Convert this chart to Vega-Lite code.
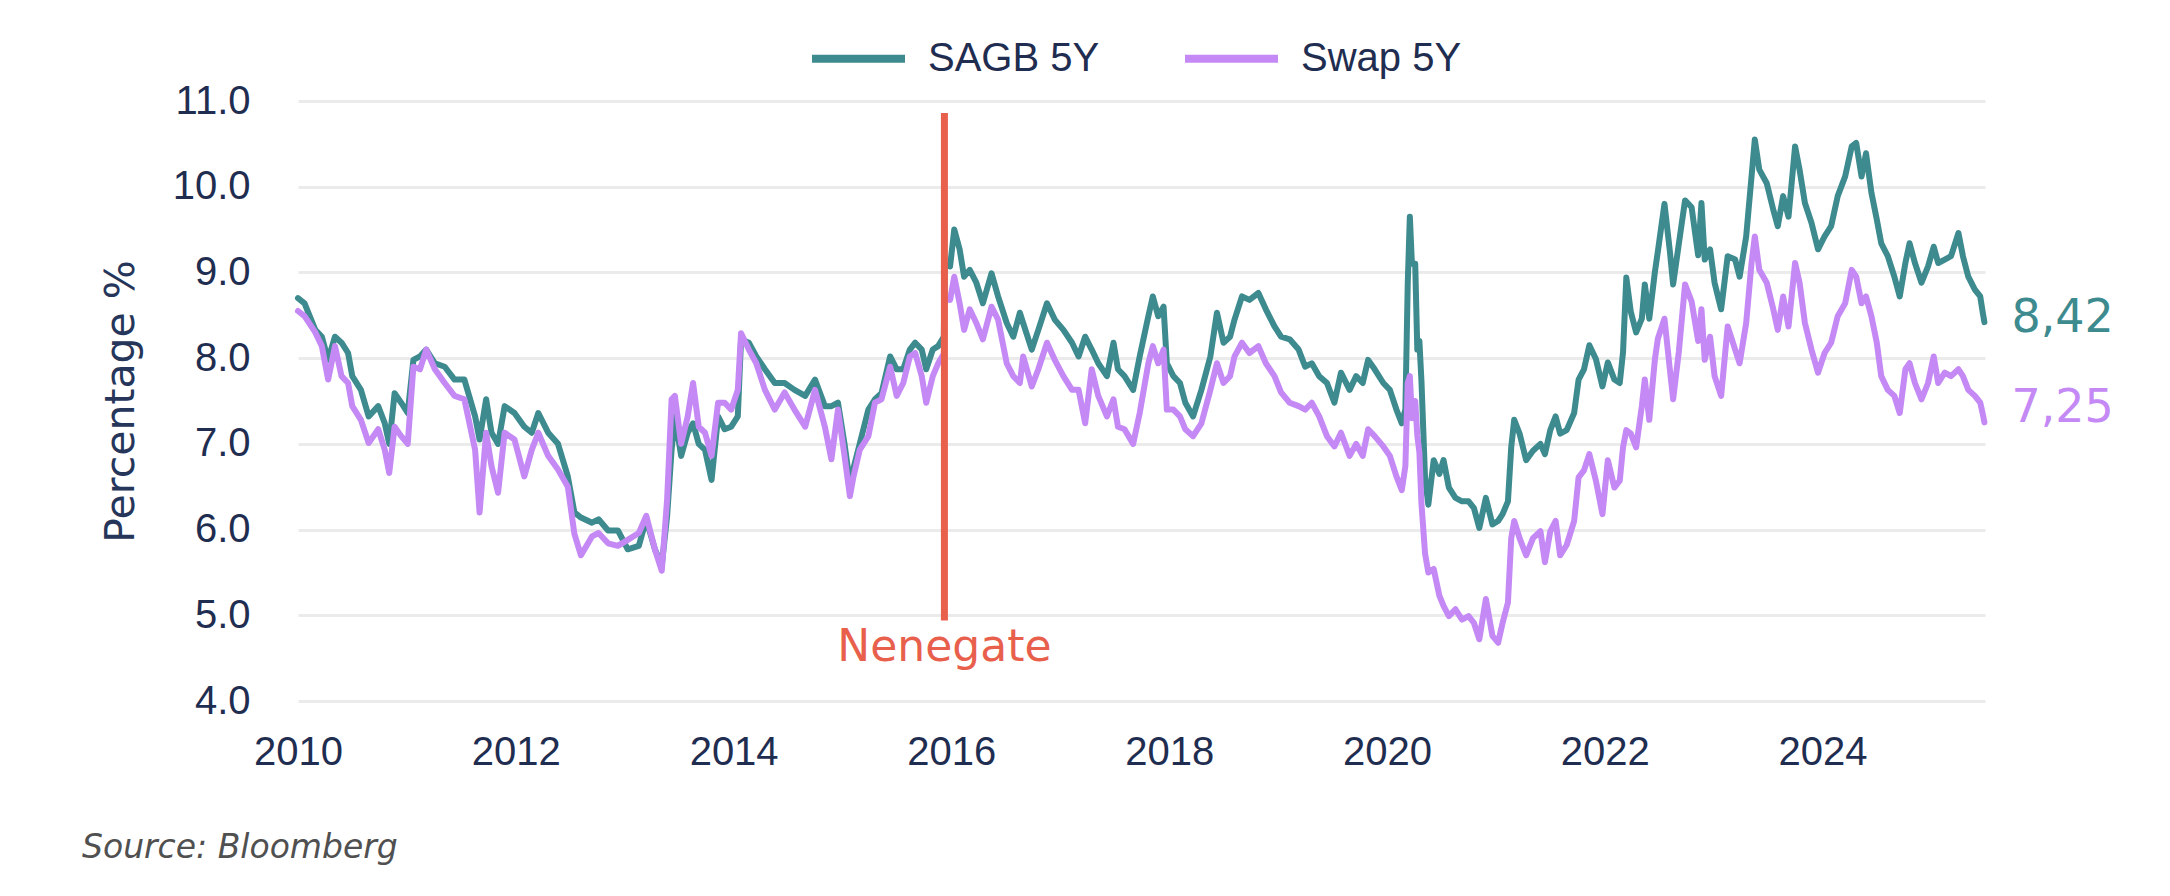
{
  "$schema": "https://vega.github.io/schema/vega-lite/v6.json",
  "width": 1687,
  "height": 600,
  "autosize": {"type": "none"},
  "padding": {"left": 298, "top": 101, "right": 185, "bottom": 195},
  "background": "white",
  "title": {
    "text": "Source: Bloomberg",
    "orient": "bottom",
    "anchor": "start",
    "frame": "group",
    "dx": -216,
    "offset": 60,
    "font": "DejaVu Sans",
    "fontStyle": "italic",
    "fontWeight": "normal",
    "fontSize": 33,
    "color": "#505050"
  },
  "datasets": {
    "rates": [
      {"d": "2010-01-01", "SAGB 5Y": 8.70, "Swap 5Y": 8.55},
      {"d": "2010-01-23", "SAGB 5Y": 8.64, "Swap 5Y": 8.49},
      {"d": "2010-02-28", "SAGB 5Y": 8.33, "Swap 5Y": 8.30},
      {"d": "2010-03-22", "SAGB 5Y": 8.25, "Swap 5Y": 8.14},
      {"d": "2010-04-12", "SAGB 5Y": 7.98, "Swap 5Y": 7.75},
      {"d": "2010-05-05", "SAGB 5Y": 8.25, "Swap 5Y": 8.14},
      {"d": "2010-05-27", "SAGB 5Y": 8.18, "Swap 5Y": 7.79},
      {"d": "2010-06-18", "SAGB 5Y": 8.06, "Swap 5Y": 7.71},
      {"d": "2010-07-02", "SAGB 5Y": 7.79, "Swap 5Y": 7.44},
      {"d": "2010-07-31", "SAGB 5Y": 7.63, "Swap 5Y": 7.28},
      {"d": "2010-08-26", "SAGB 5Y": 7.32, "Swap 5Y": 7.01},
      {"d": "2010-09-27", "SAGB 5Y": 7.44, "Swap 5Y": 7.17},
      {"d": "2010-10-19", "SAGB 5Y": 7.24, "Swap 5Y": 6.93},
      {"d": "2010-11-03", "SAGB 5Y": 7.00, "Swap 5Y": 6.66},
      {"d": "2010-11-21", "SAGB 5Y": 7.59, "Swap 5Y": 7.20},
      {"d": "2010-12-13", "SAGB 5Y": 7.48, "Swap 5Y": 7.09},
      {"d": "2011-01-04", "SAGB 5Y": 7.36, "Swap 5Y": 7.00},
      {"d": "2011-01-23", "SAGB 5Y": 7.98, "Swap 5Y": 7.90},
      {"d": "2011-02-14", "SAGB 5Y": 8.02, "Swap 5Y": 7.87},
      {"d": "2011-03-07", "SAGB 5Y": 8.10, "Swap 5Y": 8.10},
      {"d": "2011-04-05", "SAGB 5Y": 7.94, "Swap 5Y": 7.87},
      {"d": "2011-05-08", "SAGB 5Y": 7.90, "Swap 5Y": 7.71},
      {"d": "2011-06-10", "SAGB 5Y": 7.75, "Swap 5Y": 7.56},
      {"d": "2011-07-13", "SAGB 5Y": 7.75, "Swap 5Y": 7.52},
      {"d": "2011-08-18", "SAGB 5Y": 7.32, "Swap 5Y": 6.93},
      {"d": "2011-09-02", "SAGB 5Y": 7.05, "Swap 5Y": 6.20},
      {"d": "2011-09-24", "SAGB 5Y": 7.52, "Swap 5Y": 7.13},
      {"d": "2011-10-12", "SAGB 5Y": 7.13, "Swap 5Y": 6.74},
      {"d": "2011-11-03", "SAGB 5Y": 7.00, "Swap 5Y": 6.43},
      {"d": "2011-11-25", "SAGB 5Y": 7.44, "Swap 5Y": 7.13},
      {"d": "2011-12-28", "SAGB 5Y": 7.36, "Swap 5Y": 7.05},
      {"d": "2012-01-30", "SAGB 5Y": 7.20, "Swap 5Y": 6.62},
      {"d": "2012-02-24", "SAGB 5Y": 7.13, "Swap 5Y": 6.93},
      {"d": "2012-03-17", "SAGB 5Y": 7.36, "Swap 5Y": 7.13},
      {"d": "2012-04-19", "SAGB 5Y": 7.13, "Swap 5Y": 6.86},
      {"d": "2012-05-22", "SAGB 5Y": 7.00, "Swap 5Y": 6.70},
      {"d": "2012-06-24", "SAGB 5Y": 6.62, "Swap 5Y": 6.50},
      {"d": "2012-07-16", "SAGB 5Y": 6.20, "Swap 5Y": 5.95},
      {"d": "2012-08-07", "SAGB 5Y": 6.14, "Swap 5Y": 5.70},
      {"d": "2012-09-13", "SAGB 5Y": 6.08, "Swap 5Y": 5.92},
      {"d": "2012-10-05", "SAGB 5Y": 6.12, "Swap 5Y": 5.96},
      {"d": "2012-11-06", "SAGB 5Y": 5.99, "Swap 5Y": 5.84},
      {"d": "2012-12-09", "SAGB 5Y": 5.99, "Swap 5Y": 5.81},
      {"d": "2013-01-11", "SAGB 5Y": 5.77, "Swap 5Y": 5.88},
      {"d": "2013-02-17", "SAGB 5Y": 5.81, "Swap 5Y": 5.96},
      {"d": "2013-03-14", "SAGB 5Y": 6.12, "Swap 5Y": 6.16},
      {"d": "2013-04-12", "SAGB 5Y": 5.77, "Swap 5Y": 5.77},
      {"d": "2013-05-05", "SAGB 5Y": 5.58, "Swap 5Y": 5.52},
      {"d": "2013-05-23", "SAGB 5Y": 6.16, "Swap 5Y": 6.35},
      {"d": "2013-06-07", "SAGB 5Y": 6.93, "Swap 5Y": 7.52},
      {"d": "2013-06-18", "SAGB 5Y": 7.32, "Swap 5Y": 7.56},
      {"d": "2013-07-09", "SAGB 5Y": 6.86, "Swap 5Y": 7.00},
      {"d": "2013-07-31", "SAGB 5Y": 7.13, "Swap 5Y": 7.32},
      {"d": "2013-08-18", "SAGB 5Y": 7.24, "Swap 5Y": 7.71},
      {"d": "2013-09-06", "SAGB 5Y": 7.00, "Swap 5Y": 7.20},
      {"d": "2013-09-27", "SAGB 5Y": 6.93, "Swap 5Y": 7.13},
      {"d": "2013-10-19", "SAGB 5Y": 6.58, "Swap 5Y": 6.86},
      {"d": "2013-11-10", "SAGB 5Y": 7.32, "Swap 5Y": 7.48},
      {"d": "2013-12-02", "SAGB 5Y": 7.17, "Swap 5Y": 7.48},
      {"d": "2013-12-24", "SAGB 5Y": 7.20, "Swap 5Y": 7.40},
      {"d": "2014-01-15", "SAGB 5Y": 7.32, "Swap 5Y": 7.63},
      {"d": "2014-01-26", "SAGB 5Y": 8.22, "Swap 5Y": 8.29},
      {"d": "2014-02-21", "SAGB 5Y": 8.18, "Swap 5Y": 8.10},
      {"d": "2014-03-18", "SAGB 5Y": 8.02, "Swap 5Y": 7.94},
      {"d": "2014-04-16", "SAGB 5Y": 7.87, "Swap 5Y": 7.63},
      {"d": "2014-05-19", "SAGB 5Y": 7.71, "Swap 5Y": 7.40},
      {"d": "2014-06-21", "SAGB 5Y": 7.71, "Swap 5Y": 7.60},
      {"d": "2014-07-24", "SAGB 5Y": 7.63, "Swap 5Y": 7.40},
      {"d": "2014-08-29", "SAGB 5Y": 7.56, "Swap 5Y": 7.20},
      {"d": "2014-10-01", "SAGB 5Y": 7.75, "Swap 5Y": 7.63},
      {"d": "2014-11-03", "SAGB 5Y": 7.44, "Swap 5Y": 7.20},
      {"d": "2014-11-25", "SAGB 5Y": 7.44, "Swap 5Y": 6.82},
      {"d": "2014-12-17", "SAGB 5Y": 7.48, "Swap 5Y": 7.40},
      {"d": "2015-01-08", "SAGB 5Y": 7.00, "Swap 5Y": 6.86},
      {"d": "2015-01-26", "SAGB 5Y": 6.54, "Swap 5Y": 6.39},
      {"d": "2015-02-06", "SAGB 5Y": 6.70, "Swap 5Y": 6.60},
      {"d": "2015-02-28", "SAGB 5Y": 7.00, "Swap 5Y": 6.93},
      {"d": "2015-03-29", "SAGB 5Y": 7.40, "Swap 5Y": 7.09},
      {"d": "2015-04-20", "SAGB 5Y": 7.52, "Swap 5Y": 7.48},
      {"d": "2015-05-12", "SAGB 5Y": 7.59, "Swap 5Y": 7.52},
      {"d": "2015-06-10", "SAGB 5Y": 8.02, "Swap 5Y": 7.90},
      {"d": "2015-07-02", "SAGB 5Y": 7.87, "Swap 5Y": 7.56},
      {"d": "2015-07-24", "SAGB 5Y": 7.87, "Swap 5Y": 7.71},
      {"d": "2015-08-15", "SAGB 5Y": 8.10, "Swap 5Y": 8.02},
      {"d": "2015-09-02", "SAGB 5Y": 8.18, "Swap 5Y": 8.06},
      {"d": "2015-09-24", "SAGB 5Y": 8.10, "Swap 5Y": 7.79},
      {"d": "2015-10-09", "SAGB 5Y": 7.87, "Swap 5Y": 7.48},
      {"d": "2015-10-31", "SAGB 5Y": 8.10, "Swap 5Y": 7.79},
      {"d": "2015-11-18", "SAGB 5Y": 8.14, "Swap 5Y": 7.94},
      {"d": "2015-12-07", "SAGB 5Y": 8.25, "Swap 5Y": 8.05},
      {"d": "2015-12-10", "SAGB 5Y": 9.10, "Swap 5Y": 8.70},
      {"d": "2015-12-28", "SAGB 5Y": 9.07, "Swap 5Y": 8.68},
      {"d": "2016-01-11", "SAGB 5Y": 9.50, "Swap 5Y": 8.95},
      {"d": "2016-01-29", "SAGB 5Y": 9.27, "Swap 5Y": 8.64},
      {"d": "2016-02-13", "SAGB 5Y": 8.95, "Swap 5Y": 8.33},
      {"d": "2016-03-03", "SAGB 5Y": 9.03, "Swap 5Y": 8.57},
      {"d": "2016-03-25", "SAGB 5Y": 8.88, "Swap 5Y": 8.41},
      {"d": "2016-04-16", "SAGB 5Y": 8.64, "Swap 5Y": 8.22},
      {"d": "2016-05-15", "SAGB 5Y": 8.99, "Swap 5Y": 8.60},
      {"d": "2016-06-06", "SAGB 5Y": 8.72, "Swap 5Y": 8.45},
      {"d": "2016-07-05", "SAGB 5Y": 8.41, "Swap 5Y": 7.94},
      {"d": "2016-07-27", "SAGB 5Y": 8.25, "Swap 5Y": 7.79},
      {"d": "2016-08-18", "SAGB 5Y": 8.53, "Swap 5Y": 7.71},
      {"d": "2016-08-29", "SAGB 5Y": 8.41, "Swap 5Y": 8.02},
      {"d": "2016-09-27", "SAGB 5Y": 8.10, "Swap 5Y": 7.67},
      {"d": "2016-10-19", "SAGB 5Y": 8.33, "Swap 5Y": 7.87},
      {"d": "2016-11-17", "SAGB 5Y": 8.64, "Swap 5Y": 8.18},
      {"d": "2016-12-13", "SAGB 5Y": 8.45, "Swap 5Y": 7.98},
      {"d": "2017-01-11", "SAGB 5Y": 8.33, "Swap 5Y": 7.79},
      {"d": "2017-02-09", "SAGB 5Y": 8.18, "Swap 5Y": 7.63},
      {"d": "2017-03-03", "SAGB 5Y": 8.02, "Swap 5Y": 7.63},
      {"d": "2017-03-25", "SAGB 5Y": 8.25, "Swap 5Y": 7.24},
      {"d": "2017-04-16", "SAGB 5Y": 8.10, "Swap 5Y": 7.87},
      {"d": "2017-05-08", "SAGB 5Y": 7.94, "Swap 5Y": 7.56},
      {"d": "2017-06-06", "SAGB 5Y": 7.79, "Swap 5Y": 7.32},
      {"d": "2017-06-28", "SAGB 5Y": 8.18, "Swap 5Y": 7.52},
      {"d": "2017-07-13", "SAGB 5Y": 7.87, "Swap 5Y": 7.20},
      {"d": "2017-08-04", "SAGB 5Y": 7.79, "Swap 5Y": 7.17},
      {"d": "2017-09-02", "SAGB 5Y": 7.63, "Swap 5Y": 7.00},
      {"d": "2017-09-24", "SAGB 5Y": 8.02, "Swap 5Y": 7.36},
      {"d": "2017-10-23", "SAGB 5Y": 8.49, "Swap 5Y": 7.94},
      {"d": "2017-11-07", "SAGB 5Y": 8.72, "Swap 5Y": 8.14},
      {"d": "2017-11-25", "SAGB 5Y": 8.49, "Swap 5Y": 7.94},
      {"d": "2017-12-13", "SAGB 5Y": 8.60, "Swap 5Y": 8.10},
      {"d": "2017-12-24", "SAGB 5Y": 7.94, "Swap 5Y": 7.40},
      {"d": "2018-01-15", "SAGB 5Y": 7.79, "Swap 5Y": 7.40},
      {"d": "2018-02-06", "SAGB 5Y": 7.71, "Swap 5Y": 7.32},
      {"d": "2018-02-24", "SAGB 5Y": 7.48, "Swap 5Y": 7.17},
      {"d": "2018-03-22", "SAGB 5Y": 7.32, "Swap 5Y": 7.09},
      {"d": "2018-04-19", "SAGB 5Y": 7.63, "Swap 5Y": 7.24},
      {"d": "2018-05-19", "SAGB 5Y": 8.02, "Swap 5Y": 7.63},
      {"d": "2018-06-10", "SAGB 5Y": 8.53, "Swap 5Y": 7.94},
      {"d": "2018-07-02", "SAGB 5Y": 8.18, "Swap 5Y": 7.71},
      {"d": "2018-07-24", "SAGB 5Y": 8.25, "Swap 5Y": 7.79},
      {"d": "2018-08-08", "SAGB 5Y": 8.45, "Swap 5Y": 8.02},
      {"d": "2018-09-02", "SAGB 5Y": 8.72, "Swap 5Y": 8.18},
      {"d": "2018-09-27", "SAGB 5Y": 8.68, "Swap 5Y": 8.06},
      {"d": "2018-10-27", "SAGB 5Y": 8.76, "Swap 5Y": 8.14},
      {"d": "2018-11-21", "SAGB 5Y": 8.57, "Swap 5Y": 7.94},
      {"d": "2018-12-20", "SAGB 5Y": 8.37, "Swap 5Y": 7.79},
      {"d": "2019-01-11", "SAGB 5Y": 8.25, "Swap 5Y": 7.60},
      {"d": "2019-02-09", "SAGB 5Y": 8.22, "Swap 5Y": 7.48},
      {"d": "2019-03-11", "SAGB 5Y": 8.10, "Swap 5Y": 7.44},
      {"d": "2019-04-02", "SAGB 5Y": 7.90, "Swap 5Y": 7.40},
      {"d": "2019-04-24", "SAGB 5Y": 7.94, "Swap 5Y": 7.48},
      {"d": "2019-05-19", "SAGB 5Y": 7.79, "Swap 5Y": 7.32},
      {"d": "2019-06-14", "SAGB 5Y": 7.71, "Swap 5Y": 7.09},
      {"d": "2019-07-09", "SAGB 5Y": 7.48, "Swap 5Y": 6.97},
      {"d": "2019-07-31", "SAGB 5Y": 7.83, "Swap 5Y": 7.13},
      {"d": "2019-08-29", "SAGB 5Y": 7.63, "Swap 5Y": 6.86},
      {"d": "2019-09-20", "SAGB 5Y": 7.79, "Swap 5Y": 7.00},
      {"d": "2019-10-12", "SAGB 5Y": 7.71, "Swap 5Y": 6.86},
      {"d": "2019-10-30", "SAGB 5Y": 7.98, "Swap 5Y": 7.17},
      {"d": "2019-11-21", "SAGB 5Y": 7.87, "Swap 5Y": 7.09},
      {"d": "2019-12-20", "SAGB 5Y": 7.71, "Swap 5Y": 6.97},
      {"d": "2020-01-11", "SAGB 5Y": 7.63, "Swap 5Y": 6.86},
      {"d": "2020-02-02", "SAGB 5Y": 7.40, "Swap 5Y": 6.62},
      {"d": "2020-02-20", "SAGB 5Y": 7.24, "Swap 5Y": 6.46},
      {"d": "2020-03-03", "SAGB 5Y": 7.40, "Swap 5Y": 6.74},
      {"d": "2020-03-11", "SAGB 5Y": 8.88, "Swap 5Y": 7.71},
      {"d": "2020-03-18", "SAGB 5Y": 9.65, "Swap 5Y": 7.79},
      {"d": "2020-03-25", "SAGB 5Y": 9.10, "Swap 5Y": 7.30},
      {"d": "2020-04-05", "SAGB 5Y": 9.10, "Swap 5Y": 7.50},
      {"d": "2020-04-12", "SAGB 5Y": 8.10, "Swap 5Y": 7.10},
      {"d": "2020-04-19", "SAGB 5Y": 8.20, "Swap 5Y": 6.90},
      {"d": "2020-04-26", "SAGB 5Y": 7.73, "Swap 5Y": 6.30},
      {"d": "2020-05-08", "SAGB 5Y": 6.60, "Swap 5Y": 5.72},
      {"d": "2020-05-19", "SAGB 5Y": 6.29, "Swap 5Y": 5.50},
      {"d": "2020-06-06", "SAGB 5Y": 6.81, "Swap 5Y": 5.54},
      {"d": "2020-06-25", "SAGB 5Y": 6.65, "Swap 5Y": 5.23},
      {"d": "2020-07-09", "SAGB 5Y": 6.81, "Swap 5Y": 5.11},
      {"d": "2020-07-27", "SAGB 5Y": 6.49, "Swap 5Y": 4.99},
      {"d": "2020-08-18", "SAGB 5Y": 6.37, "Swap 5Y": 5.07},
      {"d": "2020-09-09", "SAGB 5Y": 6.33, "Swap 5Y": 4.95},
      {"d": "2020-10-01", "SAGB 5Y": 6.33, "Swap 5Y": 4.99},
      {"d": "2020-10-19", "SAGB 5Y": 6.25, "Swap 5Y": 4.91},
      {"d": "2020-11-06", "SAGB 5Y": 6.02, "Swap 5Y": 4.72},
      {"d": "2020-11-28", "SAGB 5Y": 6.37, "Swap 5Y": 5.19},
      {"d": "2020-12-20", "SAGB 5Y": 6.06, "Swap 5Y": 4.76},
      {"d": "2021-01-08", "SAGB 5Y": 6.10, "Swap 5Y": 4.68},
      {"d": "2021-01-23", "SAGB 5Y": 6.18, "Swap 5Y": 4.91},
      {"d": "2021-02-10", "SAGB 5Y": 6.33, "Swap 5Y": 5.15},
      {"d": "2021-02-21", "SAGB 5Y": 6.96, "Swap 5Y": 5.90},
      {"d": "2021-03-03", "SAGB 5Y": 7.28, "Swap 5Y": 6.10},
      {"d": "2021-03-21", "SAGB 5Y": 7.12, "Swap 5Y": 5.90},
      {"d": "2021-04-12", "SAGB 5Y": 6.81, "Swap 5Y": 5.70},
      {"d": "2021-05-05", "SAGB 5Y": 6.92, "Swap 5Y": 5.90},
      {"d": "2021-05-30", "SAGB 5Y": 7.00, "Swap 5Y": 5.98},
      {"d": "2021-06-14", "SAGB 5Y": 6.88, "Swap 5Y": 5.62},
      {"d": "2021-07-02", "SAGB 5Y": 7.16, "Swap 5Y": 5.98},
      {"d": "2021-07-20", "SAGB 5Y": 7.32, "Swap 5Y": 6.10},
      {"d": "2021-08-04", "SAGB 5Y": 7.12, "Swap 5Y": 5.70},
      {"d": "2021-08-26", "SAGB 5Y": 7.16, "Swap 5Y": 5.82},
      {"d": "2021-09-20", "SAGB 5Y": 7.36, "Swap 5Y": 6.10},
      {"d": "2021-10-05", "SAGB 5Y": 7.75, "Swap 5Y": 6.61},
      {"d": "2021-10-23", "SAGB 5Y": 7.87, "Swap 5Y": 6.69},
      {"d": "2021-11-10", "SAGB 5Y": 8.15, "Swap 5Y": 6.88},
      {"d": "2021-12-02", "SAGB 5Y": 7.99, "Swap 5Y": 6.57},
      {"d": "2021-12-24", "SAGB 5Y": 7.67, "Swap 5Y": 6.18},
      {"d": "2022-01-11", "SAGB 5Y": 7.95, "Swap 5Y": 6.81},
      {"d": "2022-02-02", "SAGB 5Y": 7.75, "Swap 5Y": 6.49},
      {"d": "2022-02-20", "SAGB 5Y": 7.71, "Swap 5Y": 6.57},
      {"d": "2022-03-03", "SAGB 5Y": 8.07, "Swap 5Y": 6.96},
      {"d": "2022-03-14", "SAGB 5Y": 8.94, "Swap 5Y": 7.16},
      {"d": "2022-03-29", "SAGB 5Y": 8.54, "Swap 5Y": 7.12},
      {"d": "2022-04-16", "SAGB 5Y": 8.30, "Swap 5Y": 6.96},
      {"d": "2022-05-05", "SAGB 5Y": 8.46, "Swap 5Y": 7.44},
      {"d": "2022-05-15", "SAGB 5Y": 8.86, "Swap 5Y": 7.75},
      {"d": "2022-05-30", "SAGB 5Y": 8.46, "Swap 5Y": 7.28},
      {"d": "2022-06-18", "SAGB 5Y": 9.01, "Swap 5Y": 7.99},
      {"d": "2022-06-28", "SAGB 5Y": 9.25, "Swap 5Y": 8.23},
      {"d": "2022-07-20", "SAGB 5Y": 9.80, "Swap 5Y": 8.46},
      {"d": "2022-08-07", "SAGB 5Y": 9.25, "Swap 5Y": 7.87},
      {"d": "2022-08-18", "SAGB 5Y": 8.86, "Swap 5Y": 7.52},
      {"d": "2022-09-06", "SAGB 5Y": 9.33, "Swap 5Y": 8.07},
      {"d": "2022-09-27", "SAGB 5Y": 9.84, "Swap 5Y": 8.86},
      {"d": "2022-10-19", "SAGB 5Y": 9.76, "Swap 5Y": 8.66},
      {"d": "2022-11-10", "SAGB 5Y": 9.20, "Swap 5Y": 8.20},
      {"d": "2022-11-21", "SAGB 5Y": 9.81, "Swap 5Y": 8.57},
      {"d": "2022-12-02", "SAGB 5Y": 9.15, "Swap 5Y": 7.98},
      {"d": "2022-12-20", "SAGB 5Y": 9.27, "Swap 5Y": 8.25},
      {"d": "2023-01-04", "SAGB 5Y": 8.88, "Swap 5Y": 7.79},
      {"d": "2023-01-26", "SAGB 5Y": 8.57, "Swap 5Y": 7.56},
      {"d": "2023-02-17", "SAGB 5Y": 9.19, "Swap 5Y": 8.37},
      {"d": "2023-03-14", "SAGB 5Y": 9.15, "Swap 5Y": 8.10},
      {"d": "2023-03-29", "SAGB 5Y": 8.95, "Swap 5Y": 7.94},
      {"d": "2023-04-20", "SAGB 5Y": 9.42, "Swap 5Y": 8.41},
      {"d": "2023-05-08", "SAGB 5Y": 10.12, "Swap 5Y": 9.11},
      {"d": "2023-05-19", "SAGB 5Y": 10.55, "Swap 5Y": 9.42},
      {"d": "2023-06-03", "SAGB 5Y": 10.20, "Swap 5Y": 9.03},
      {"d": "2023-06-28", "SAGB 5Y": 10.04, "Swap 5Y": 8.88},
      {"d": "2023-07-20", "SAGB 5Y": 9.73, "Swap 5Y": 8.57},
      {"d": "2023-08-04", "SAGB 5Y": 9.54, "Swap 5Y": 8.33},
      {"d": "2023-08-22", "SAGB 5Y": 9.89, "Swap 5Y": 8.72},
      {"d": "2023-09-09", "SAGB 5Y": 9.65, "Swap 5Y": 8.37},
      {"d": "2023-10-01", "SAGB 5Y": 10.47, "Swap 5Y": 9.11},
      {"d": "2023-10-16", "SAGB 5Y": 10.20, "Swap 5Y": 8.88},
      {"d": "2023-11-03", "SAGB 5Y": 9.81, "Swap 5Y": 8.41},
      {"d": "2023-11-25", "SAGB 5Y": 9.58, "Swap 5Y": 8.10},
      {"d": "2023-12-17", "SAGB 5Y": 9.27, "Swap 5Y": 7.83},
      {"d": "2024-01-08", "SAGB 5Y": 9.42, "Swap 5Y": 8.06},
      {"d": "2024-01-30", "SAGB 5Y": 9.54, "Swap 5Y": 8.18},
      {"d": "2024-02-21", "SAGB 5Y": 9.89, "Swap 5Y": 8.49},
      {"d": "2024-03-17", "SAGB 5Y": 10.12, "Swap 5Y": 8.64},
      {"d": "2024-04-08", "SAGB 5Y": 10.47, "Swap 5Y": 9.03},
      {"d": "2024-04-23", "SAGB 5Y": 10.51, "Swap 5Y": 8.95},
      {"d": "2024-05-11", "SAGB 5Y": 10.12, "Swap 5Y": 8.64},
      {"d": "2024-05-26", "SAGB 5Y": 10.39, "Swap 5Y": 8.72},
      {"d": "2024-06-13", "SAGB 5Y": 9.93, "Swap 5Y": 8.49},
      {"d": "2024-07-01", "SAGB 5Y": 9.62, "Swap 5Y": 8.18},
      {"d": "2024-07-16", "SAGB 5Y": 9.34, "Swap 5Y": 7.79},
      {"d": "2024-08-07", "SAGB 5Y": 9.19, "Swap 5Y": 7.63},
      {"d": "2024-08-29", "SAGB 5Y": 8.95, "Swap 5Y": 7.56},
      {"d": "2024-09-16", "SAGB 5Y": 8.72, "Swap 5Y": 7.36},
      {"d": "2024-10-05", "SAGB 5Y": 9.11, "Swap 5Y": 7.87},
      {"d": "2024-10-19", "SAGB 5Y": 9.34, "Swap 5Y": 7.94},
      {"d": "2024-11-06", "SAGB 5Y": 9.11, "Swap 5Y": 7.71},
      {"d": "2024-11-28", "SAGB 5Y": 8.88, "Swap 5Y": 7.52},
      {"d": "2024-12-20", "SAGB 5Y": 9.07, "Swap 5Y": 7.71},
      {"d": "2025-01-08", "SAGB 5Y": 9.30, "Swap 5Y": 8.02},
      {"d": "2025-01-23", "SAGB 5Y": 9.11, "Swap 5Y": 7.71},
      {"d": "2025-02-14", "SAGB 5Y": 9.15, "Swap 5Y": 7.83},
      {"d": "2025-03-07", "SAGB 5Y": 9.19, "Swap 5Y": 7.79},
      {"d": "2025-04-01", "SAGB 5Y": 9.46, "Swap 5Y": 7.87},
      {"d": "2025-04-16", "SAGB 5Y": 9.19, "Swap 5Y": 7.79},
      {"d": "2025-05-04", "SAGB 5Y": 8.95, "Swap 5Y": 7.63},
      {"d": "2025-05-26", "SAGB 5Y": 8.80, "Swap 5Y": 7.56},
      {"d": "2025-06-13", "SAGB 5Y": 8.72, "Swap 5Y": 7.48},
      {"d": "2025-06-22", "SAGB 5Y": 8.52, "Swap 5Y": 7.34},
      {"d": "2025-06-27", "SAGB 5Y": 8.42, "Swap 5Y": 7.25}
    ]
  },
  "layer": [
    {
      "data": {"name": "rates"},
      "transform": [{"fold": ["SAGB 5Y", "Swap 5Y"], "as": ["series", "value"]}],
      "mark": {"type": "line", "strokeWidth": 6, "strokeJoin": "round", "strokeCap": "round"},
      "encoding": {
        "x": {
          "field": "d",
          "type": "temporal",
          "scale": {"type": "utc", "domain": ["2010-01-01", "2025-06-29"]},
          "axis": {
            "title": null,
            "format": "%Y",
            "tickCount": {"interval": "year", "step": 2},
            "grid": false,
            "domain": false,
            "ticks": false,
            "labelFlush": false,
            "labelPadding": 31,
            "labelFont": "Liberation Sans",
            "labelFontSize": 40,
            "labelColor": "#1f2d50"
          }
        },
        "y": {
          "field": "value",
          "type": "quantitative",
          "scale": {"domain": [4, 11], "nice": false, "zero": false},
          "axis": {
            "title": "Percentage %",
            "values": [4, 5, 6, 7, 8, 9, 10, 11],
            "format": ".1f",
            "grid": true,
            "gridColor": "#ebebeb",
            "gridWidth": 3,
            "domain": false,
            "ticks": false,
            "labelFlush": false,
            "labelPadding": 48,
            "labelFont": "Liberation Sans",
            "labelFontSize": 40,
            "labelColor": "#1f2d50",
            "titleFont": "DejaVu Sans",
            "titleFontSize": 41,
            "titleFontWeight": "normal",
            "titleColor": "#26365a",
            "titlePadding": 30
          }
        },
        "color": {
          "field": "series",
          "type": "nominal",
          "scale": {"domain": ["SAGB 5Y", "Swap 5Y"], "range": ["#3d8a8f", "#c489f4"]},
          "legend": {
            "orient": "none",
            "legendX": 510,
            "legendY": -93,
            "direction": "horizontal",
            "title": null,
            "padding": 0,
            "symbolType": "stroke",
            "symbolSize": 8649,
            "symbolStrokeWidth": 8,
            "labelFont": "Liberation Sans",
            "labelFontSize": 40,
            "labelColor": "#1f2d50",
            "labelLimit": 400,
            "labelOffset": 19,
            "columnPadding": 69
          }
        }
      }
    },
    {
      "data": {"values": [{"d": "2015-12-09", "lo": 4.94, "hi": 10.86}]},
      "mark": {"type": "rule", "color": "#e8604c", "strokeWidth": 7},
      "encoding": {
        "x": {"field": "d", "type": "temporal"},
        "y": {"field": "lo", "type": "quantitative"},
        "y2": {"field": "hi"}
      }
    },
    {
      "data": {"values": [{"d": "2015-12-09", "v": 4.47, "t": "Nenegate"}]},
      "mark": {"type": "text", "font": "DejaVu Sans", "fontSize": 44, "color": "#e8604c", "align": "center", "baseline": "alphabetic"},
      "encoding": {
        "x": {"field": "d", "type": "temporal"},
        "y": {"field": "v", "type": "quantitative"},
        "text": {"field": "t"}
      }
    },
    {
      "data": {"values": [{"d": "2025-06-27", "v": 8.42, "t": "8,42"}]},
      "mark": {"type": "text", "font": "DejaVu Sans", "fontSize": 46, "color": "#3d8a8f", "align": "left", "baseline": "alphabetic", "dx": 27, "dy": 10},
      "encoding": {
        "x": {"field": "d", "type": "temporal"},
        "y": {"field": "v", "type": "quantitative"},
        "text": {"field": "t"}
      }
    },
    {
      "data": {"values": [{"d": "2025-06-27", "v": 7.25, "t": "7,25"}]},
      "mark": {"type": "text", "font": "DejaVu Sans", "fontSize": 46, "color": "#c489f4", "align": "left", "baseline": "alphabetic", "dx": 27, "dy": 0},
      "encoding": {
        "x": {"field": "d", "type": "temporal"},
        "y": {"field": "v", "type": "quantitative"},
        "text": {"field": "t"}
      }
    }
  ],
  "config": {"view": {"stroke": null}}
}
